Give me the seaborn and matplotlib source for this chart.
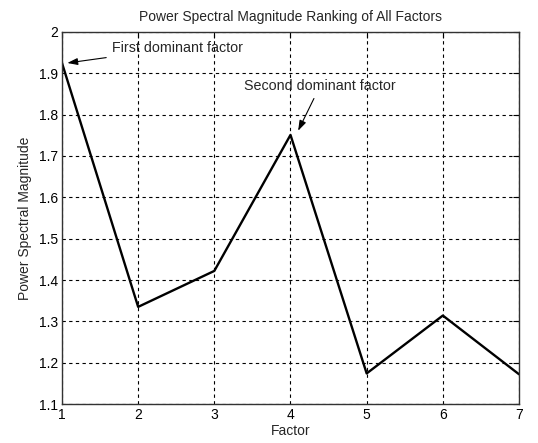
import pandas as pd
import matplotlib
matplotlib.use("Agg")
import matplotlib.pyplot as plt
import seaborn as sns

factors = [1, 2, 3, 4, 5, 6, 7]
magnitudes = [1.925, 1.335, 1.422, 1.751, 1.174, 1.314, 1.172]
y_ticks = [1.1, 1.2, 1.3, 1.4, 1.5, 1.6, 1.7, 1.8, 1.9, 2.0]
y_tick_labels = ["1.1", "1.2", "1.3", "1.4", "1.5", "1.6", "1.7", "1.8", "1.9", "2"]

df = pd.DataFrame({"factor": factors, "magnitude": magnitudes})

sns.set_style("white")
plt.rcParams["font.family"] = ["Liberation Sans", "DejaVu Sans"]

fig = plt.figure(figsize=(5.38, 4.43), dpi=100)
ax = fig.add_axes([0.1152, 0.088, 0.8495, 0.8398])

sns.lineplot(data=df, x="factor", y="magnitude", color="black",
             linewidth=1.7, ax=ax)

ax.set_xlim(1, 7)
ax.set_ylim(1.1, 2.0)
ax.set_xticks(factors)
ax.set_xticklabels([str(f) for f in factors])
ax.set_yticks(y_ticks)
ax.set_yticklabels(y_tick_labels)

ax.grid(True, color="black", linestyle=(0, (3, 3)), linewidth=0.8)
ax.tick_params(axis="both", direction="in", length=4, labelsize=10,
               top=True, right=True, colors="black", pad=3)
for s in ax.spines.values():
    s.set_color("#333333")
    s.set_linewidth(1.0)

ax.set_title("Power Spectral Magnitude Ranking of All Factors", fontsize=10, pad=8)
ax.set_xlabel("Factor", fontsize=10, labelpad=1)
ax.set_ylabel("Power Spectral Magnitude", fontsize=10, labelpad=5)

arrow = dict(arrowstyle="-|>,head_length=0.6,head_width=0.2", color="black",
             linewidth=0.8, shrinkA=2, shrinkB=0)
ax.annotate("First dominant factor", xy=(factors[0] + 0.07, magnitudes[0]),
            xytext=(1.66, 1.962), fontsize=10.3, ha="left", va="center",
            arrowprops=arrow)
ax.annotate("Second dominant factor", xy=(factors[3] + 0.1, magnitudes[3] + 0.01),
            xytext=(4.39, 1.87), fontsize=10.3, ha="center", va="center",
            arrowprops=arrow)

fig.savefig("out.png", dpi=100)
plt.close(fig)
